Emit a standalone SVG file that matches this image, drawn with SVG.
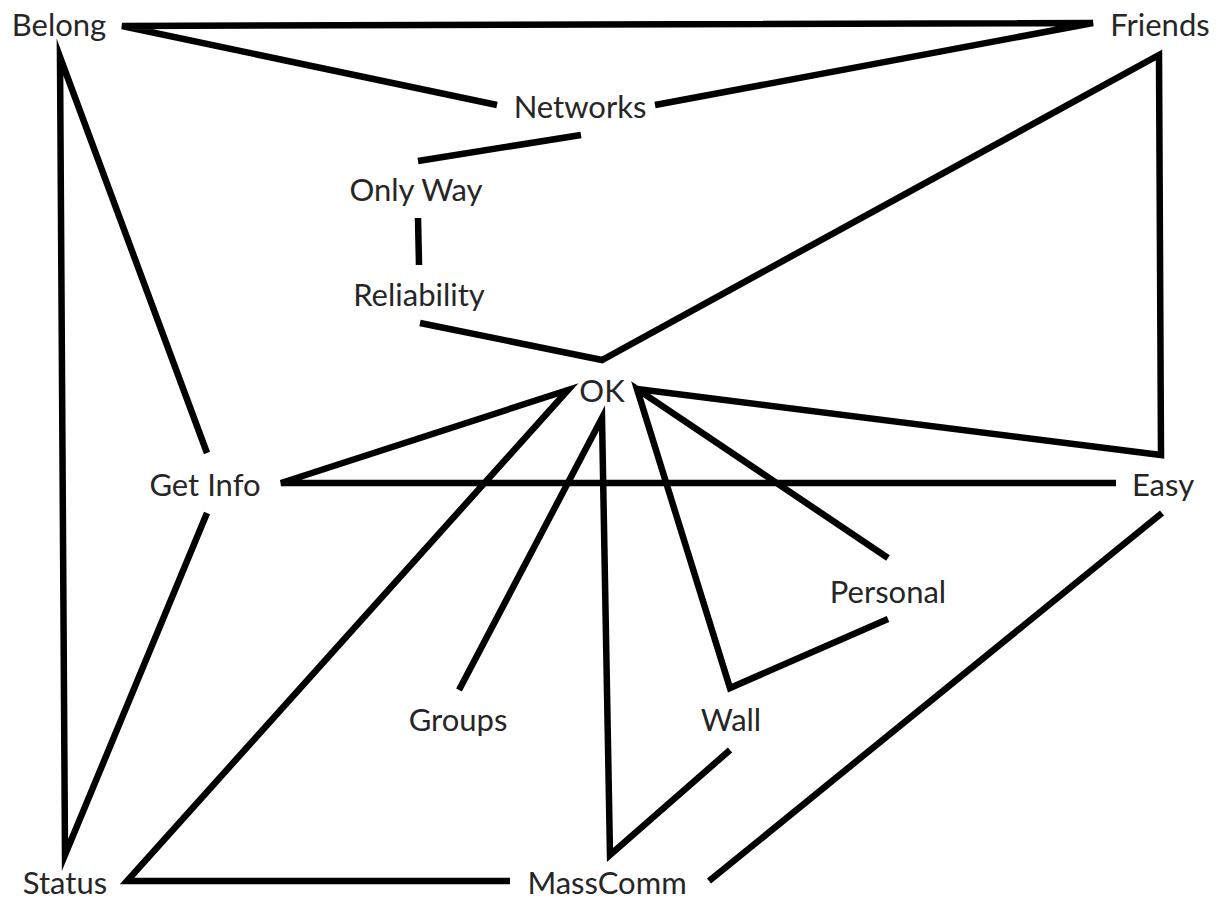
<svg xmlns="http://www.w3.org/2000/svg" width="1227" height="900" viewBox="0 0 1227 900">
<style>
.e{fill:none;stroke:#000;stroke-width:6.5;stroke-linejoin:miter;stroke-miterlimit:6}
.t{font-family:Lato,"Liberation Sans",sans-serif;font-size:31px;fill:#262626;text-anchor:middle}
</style>
<rect width="1227" height="900" fill="#fff"/>
<g id="connectors">
<path class="e" d="M497,105 L122,26 L1093,23 L655,105"/>
<path class="e" d="M418,161 L581,135"/>
<path class="e" d="M418,218 L419,265"/>
<path class="e" d="M420,323 L602,360 L1159,55 L1161,455 L637,389"/>
<path class="e" d="M207,453 L60,57 L65,855 L207,513"/>
<path class="e" d="M1116,483 L281,483 L568,390 L127,881 L510,881"/>
<path class="e" d="M459,690 L602,418 L610,855 L730,750"/>
<path class="e" d="M888,558 L637,389 L730,688 L888,619"/>
<path class="e" d="M1162,513 L709,881"/>
</g>
<g id="belong"><text class="t" x="59" y="36">Belong</text></g>
<g id="friends"><text class="t" x="1160" y="36">Friends</text></g>
<g id="networks"><text class="t" x="580" y="118">Networks</text></g>
<g id="onlyway"><text class="t" x="416" y="201">Only Way</text></g>
<g id="reliability"><text class="t" x="419" y="306">Reliability</text></g>
<g id="ok"><text class="t" x="602" y="402">OK</text></g>
<g id="getinfo"><text class="t" x="205" y="496">Get Info</text></g>
<g id="easy"><text class="t" x="1163" y="496">Easy</text></g>
<g id="personal"><text class="t" x="888" y="603">Personal</text></g>
<g id="wall"><text class="t" x="731" y="731">Wall</text></g>
<g id="groups"><text class="t" x="458" y="731">Groups</text></g>
<g id="status"><text class="t" x="65" y="894">Status</text></g>
<g id="masscomm"><text class="t" x="607" y="894">MassComm</text></g>
</svg>
